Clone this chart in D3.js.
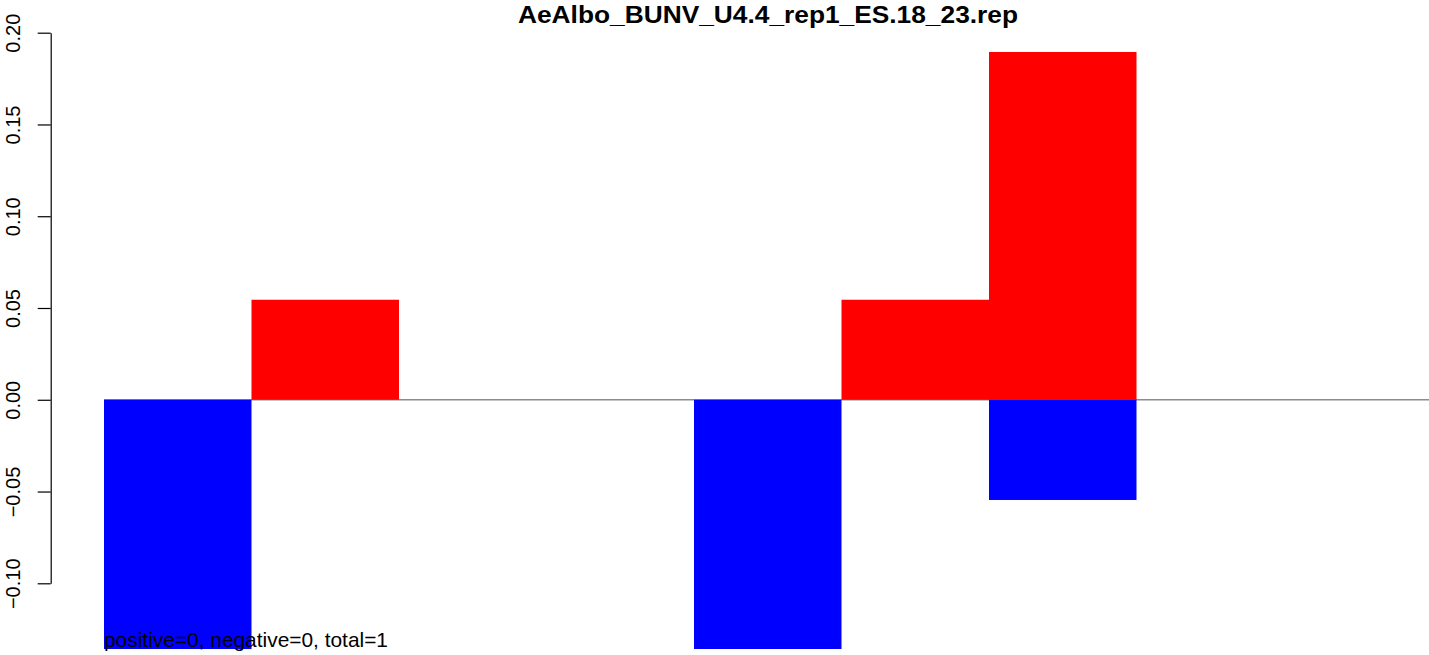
<!DOCTYPE html>
<html>
<head>
<meta charset="utf-8">
<script src="https://cdn.jsdelivr.net/npm/d3@7/dist/d3.min.js"></script>
<style>
  html, body { margin: 0; padding: 0; background: #fff; }
  svg { display: block; font-family: "Liberation Sans", Arial, Helvetica, sans-serif; }
</style>
</head>
<body>
<svg id="chart" width="1429" height="655"></svg>
<script>
// ---- data ----
const title = "AeAlbo_BUNV_U4.4_rep1_ES.18_23.rep";
const footnote = "positive=0, negative=0, total=1";
const bins = [0, 1, 2, 3, 4, 5, 6, 7, 8];
const positiveValues = [0, 0.0545, 0, 0, 0, 0.0545, 0.1895, 0, 0];
const negativeValues = [-0.1358, 0, 0, 0, -0.1358, 0, -0.0546, 0, 0];
const yTicks = [-0.10, -0.05, 0.00, 0.05, 0.10, 0.15, 0.20];

// ---- layout ----
const W = 1429, H = 655;
const svg = d3.select("#chart");

const x = d3.scaleLinear().domain([0, bins.length]).range([104, 104 + 147.5 * bins.length]);
const y = d3.scaleLinear().domain([-0.10, 0.20]).range([583.3, 32.7]);
const axisX = 50.7;

// zero line
svg.append("line")
  .attr("x1", x(0)).attr("x2", W)
  .attr("y1", y(0)).attr("y2", y(0))
  .attr("stroke", "#8c8c8c").attr("stroke-width", 1.5);

// positive bars (red)
svg.append("g").selectAll("rect")
  .data(bins.filter((d, i) => positiveValues[i] !== 0))
  .join("rect")
  .attr("x", d => x(d))
  .attr("width", d => x(d + 1) - x(d))
  .attr("y", d => y(positiveValues[d]))
  .attr("height", d => y(0) - y(positiveValues[d]))
  .attr("fill", "#ff0000");

// negative bars (blue)
svg.append("g").selectAll("rect")
  .data(bins.filter((d, i) => negativeValues[i] !== 0))
  .join("rect")
  .attr("x", d => x(d))
  .attr("width", d => x(d + 1) - x(d))
  .attr("y", d => y(0))
  .attr("height", d => y(negativeValues[d]) - y(0))
  .attr("fill", "#0000ff");

// y axis
const ax = svg.append("g")
  .attr("transform", `translate(${axisX},0)`)
  .call(d3.axisLeft(y).tickValues(yTicks).tickFormat(d3.format(".2f")).tickSize(13).tickSizeOuter(0));
ax.select(".domain").attr("stroke", "#000").attr("stroke-width", 1.2);
ax.selectAll(".tick line").attr("stroke", "#000").attr("stroke-width", 1.2);
ax.selectAll(".tick text")
  .attr("x", 0).attr("dy", 0)
  .attr("text-anchor", "middle")
  .attr("transform", "translate(-31,0) rotate(-90)")
  .attr("fill", "#000")
  .style("font-size", "20px")
  .style("font-family", "'Liberation Sans', Arial, sans-serif");

// title
svg.append("text")
  .attr("x", 518).attr("y", 23)
  .attr("textLength", 500)
  .attr("lengthAdjust", "spacingAndGlyphs")
  .style("font-weight", "bold")
  .style("font-size", "23px")
  .attr("fill", "#000")
  .text(title);

// footnote
svg.append("text")
  .attr("x", 104).attr("y", 647)
  .attr("textLength", 284)
  .attr("lengthAdjust", "spacingAndGlyphs")
  .style("font-size", "21px")
  .attr("fill", "#000")
  .text(footnote);
</script>
</body>
</html>
